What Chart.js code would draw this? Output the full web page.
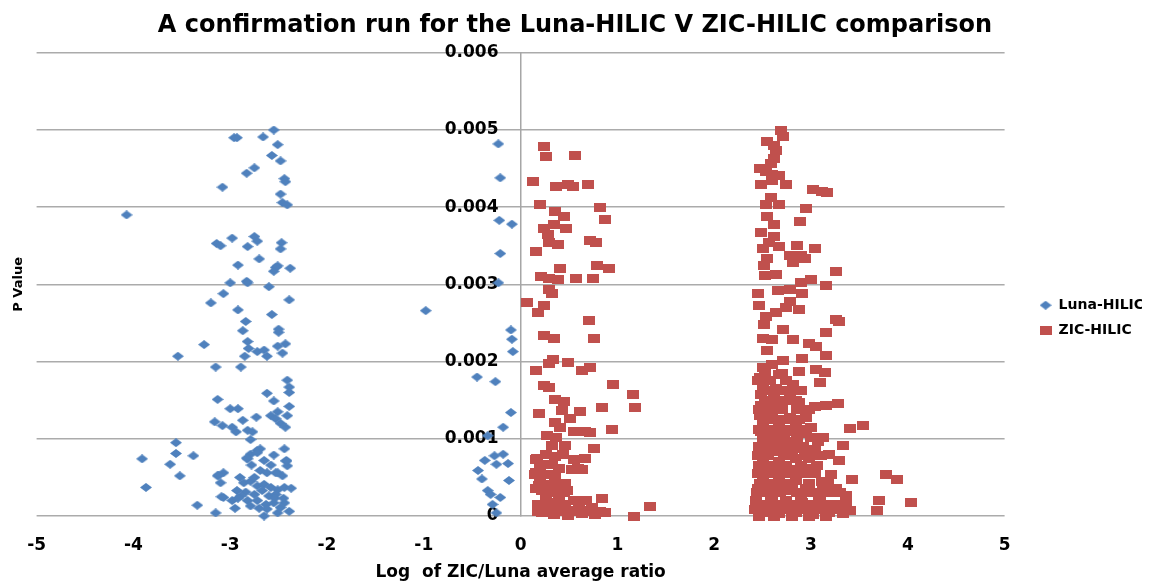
<!DOCTYPE html>
<html>
<head>
<meta charset="utf-8">
<script src="https://cdn.jsdelivr.net/npm/chart.js@4/dist/chart.umd.min.js"></script>
<style>
  body { margin: 0; background: #fff; }
</style>
</head>
<body>
<canvas id="chart" width="1158" height="582"></canvas>
<script>
// points are [log ratio, P value in units of 0.001]
const lunaLeft = [
  [-2.55,5.00],[-2.96,4.90],[-2.93,4.90],[-2.66,4.91],[-2.51,4.81],[-2.57,4.67],[-2.48,4.60],[-2.75,4.51],
  [-2.83,4.44],[-2.44,4.37],[-2.43,4.33],[-3.08,4.26],[-2.48,4.17],[-2.46,4.06],[-2.41,4.03],[-4.07,3.90],
  [-3.14,3.53],[-3.10,3.50],[-2.98,3.60],[-2.75,3.62],[-2.72,3.56],[-2.82,3.49],[-2.47,3.54],[-2.48,3.46],
  [-2.92,3.25],[-2.70,3.33],[-2.53,3.22],[-2.55,3.17],[-2.51,3.24],[-2.38,3.21],[-3.00,3.02],[-2.83,3.04],
  [-2.82,3.02],[-2.60,2.97],[-3.07,2.88],[-3.20,2.76],[-2.39,2.80],[-2.92,2.67],[-2.57,2.61],[-2.84,2.52],
  [-2.87,2.40],[-2.50,2.42],[-2.50,2.38],[-3.27,2.22],[-2.82,2.26],[-2.81,2.17],[-2.72,2.13],[-2.65,2.15],
  [-2.62,2.07],[-2.51,2.20],[-2.43,2.23],[-2.46,2.11],[-2.85,2.07],[-3.54,2.07],[-3.15,1.93],[-2.89,1.93],
  [-2.41,1.76],[-2.39,1.67],[-2.39,1.60],[-2.62,1.59],[-2.55,1.49],[-2.39,1.42],[-3.13,1.51],[-3.00,1.39],
  [-2.92,1.39],[-2.73,1.28],[-2.58,1.30],[-2.51,1.35],[-2.53,1.26],[-2.48,1.20],[-2.43,1.15],[-2.41,1.30],
  [-2.87,1.24],[-3.16,1.22],[-3.08,1.17],[-2.98,1.15],[-2.94,1.09],[-2.82,1.11],[-2.77,1.09],[-2.79,0.99],
  [-3.56,0.95],[-3.56,0.81],[-3.38,0.78],[-3.91,0.74],[-3.62,0.67],[-3.52,0.52],[-3.87,0.37],[-3.34,0.14],
  [-3.15,0.04],[-2.72,0.85],[-2.69,0.87],[-2.79,0.80],[-2.82,0.74],[-2.65,0.72],[-2.55,0.79],[-2.44,0.87],
  [-2.42,0.72],[-2.41,0.65],[-2.51,0.56],[-2.46,0.52],[-2.69,0.59],[-2.62,0.56],[-3.13,0.52],[-3.07,0.56],
  [-3.10,0.43],[-2.86,0.43],[-2.79,0.45],[-2.72,0.39],[-2.65,0.41],[-2.58,0.37],[-2.51,0.34],[-2.44,0.37],
  [-2.37,0.36],[-2.93,0.33],[-2.84,0.31],[-2.75,0.28],[-2.67,0.33],[-2.60,0.26],[-2.53,0.28],[-3.07,0.24],
  [-2.98,0.20],[-2.89,0.26],[-2.82,0.20],[-2.72,0.20],[-2.63,0.15],[-2.55,0.17],[-2.44,0.17],[-2.39,0.06],
  [-2.79,0.13],[-2.62,0.09],[-2.51,0.04],[-2.65,0.00],[-2.48,0.11],[-2.90,0.50],[-2.75,0.50],[-2.78,0.66],
  [-2.58,0.66],[-2.92,0.23],[-2.54,0.23],[-2.45,0.23],[-2.70,0.10],[-2.95,0.10],[-3.12,0.53],[-3.09,0.25],
  [-2.83,0.75],[-2.72,0.82],[-2.53,0.56],[-2.42,0.71]
];
const lunaNearZero = [
  [-0.23,4.82],[-0.21,4.38],[-0.22,3.83],[-0.09,3.78],[-0.21,3.40],[-0.23,3.02],[-0.98,2.66],[-0.10,2.41],
  [-0.09,2.29],[-0.08,2.13],[-0.45,1.80],[-0.26,1.74],[-0.10,1.34],[-0.18,1.15],[-0.34,1.04],[-0.37,0.72],
  [-0.27,0.78],[-0.18,0.80],[-0.25,0.67],[-0.13,0.68],[-0.44,0.59],[-0.40,0.48],[-0.12,0.46],[-0.34,0.33],
  [-0.31,0.28],[-0.21,0.24],[-0.29,0.15],[-0.25,0.04]
];
const zicNearZero = [
  [0.24,4.78],[0.26,4.66],[0.56,4.67],[0.13,4.33],[0.37,4.27],[0.49,4.29],[0.54,4.27],[0.70,4.29],
  [0.20,4.04],[0.82,3.99],[0.36,3.94],[0.45,3.88],[0.87,3.84],[0.24,3.73],[0.35,3.78],[0.47,3.73],
  [0.28,3.64],[0.29,3.54],[0.39,3.52],[0.72,3.57],[0.78,3.54],[0.16,3.43],[0.41,3.20],[0.79,3.24],
  [0.91,3.20],[0.21,3.10],[0.29,3.07],[0.39,3.06],[0.57,3.07],[0.75,3.07],[0.29,2.94],[0.32,2.88],
  [0.07,2.76],[0.24,2.73],[0.18,2.64],[0.71,2.53],[0.24,2.34],[0.35,2.30],[0.76,2.30],[0.33,2.03],
  [0.29,1.97],[0.49,1.99],[0.16,1.89],[0.63,1.89],[0.72,1.92],[0.24,1.69],[0.29,1.67],[0.95,1.70],
  [1.16,1.57],[1.18,1.41],[0.36,1.51],[0.45,1.48],[0.43,1.37],[0.19,1.33],[0.61,1.36],[0.84,1.40],
  [0.36,1.21],[0.41,1.15],[0.51,1.26],[0.55,1.09],[0.67,1.10],[0.72,1.08],[0.94,1.12],[0.27,1.04],
  [0.37,1.02],[0.32,0.91],[0.46,0.91],[0.76,0.87],[0.17,0.74],[0.22,0.67],[0.36,0.77],[0.32,0.67],
  [0.55,0.73],[0.67,0.74],[0.15,0.54],[0.30,0.54],[0.53,0.60],[0.63,0.60],[0.25,0.41],[0.46,0.42],
  [0.22,0.33],[0.37,0.30],[0.48,0.33],[0.84,0.23],[1.34,0.12],[1.17,0.00],[0.18,0.15],[0.32,0.17],
  [0.46,0.15],[0.60,0.13],[0.74,0.11],[0.87,0.04],[0.22,0.04],[0.35,0.02],[0.49,0.01],[0.63,0.03],
  [0.77,0.02],[0.29,0.11],[0.43,0.09],[0.56,0.07],[0.70,0.07],[0.67,0.75],[0.59,0.61],[0.16,0.73],
  [0.16,0.56],[0.19,0.40],[0.33,0.38],[0.45,0.31],[0.26,0.25],[0.20,0.50],[0.36,0.50],[0.26,0.20],
  [0.40,0.20],[0.55,0.20],[0.68,0.20],[0.18,0.06],[0.30,0.06],[0.44,0.06],[0.58,0.06],[0.72,0.06],
  [0.82,0.06],[0.16,0.35],[0.28,0.35],[0.26,0.80],[0.44,0.80],[0.20,0.62],[0.40,0.62]
];
const zicRight = [
  [2.69,5.00],[2.71,4.91],[2.55,4.85],[2.62,4.80],[2.64,4.74],[2.62,4.63],[2.59,4.57],[2.47,4.50],
  [2.53,4.46],[2.60,4.43],[2.67,4.41],[2.48,4.30],[2.60,4.35],[2.74,4.30],[3.02,4.23],[3.11,4.20],
  [3.17,4.19],[2.59,4.12],[2.53,4.03],[2.67,4.03],[2.95,3.98],[2.55,3.88],[2.62,3.77],[2.89,3.82],
  [2.48,3.67],[2.62,3.62],[2.57,3.54],[2.50,3.46],[2.67,3.49],[2.86,3.50],[3.04,3.47],[2.78,3.37],
  [2.90,3.37],[2.94,3.33],[2.55,3.33],[2.81,3.28],[2.51,3.24],[3.26,3.17],[2.52,3.11],[2.64,3.13],
  [2.90,3.03],[3.00,3.06],[3.16,2.98],[2.45,2.88],[2.66,2.92],[2.78,2.93],[2.91,2.88],[2.78,2.78],
  [2.74,2.70],[2.46,2.73],[2.88,2.67],[2.53,2.59],[2.64,2.63],[3.26,2.55],[3.29,2.52],[2.51,2.48],
  [2.71,2.42],[3.16,2.38],[2.50,2.30],[2.60,2.28],[2.81,2.28],[2.98,2.23],[3.05,2.20],[2.55,2.15],
  [3.16,2.08],[2.71,2.02],[2.91,2.04],[2.50,1.93],[2.60,1.96],[2.88,1.87],[3.05,1.90],[3.14,1.86],
  [2.47,1.80],[2.67,1.83],[3.09,1.73],[2.50,1.67],[2.64,1.65],[2.81,1.70],[2.48,1.57],[2.62,1.54],
  [2.78,1.59],[2.88,1.47],[3.04,1.42],[3.16,1.43],[3.28,1.46],[2.48,1.43],[2.67,1.46],[2.47,1.30],
  [2.60,1.33],[2.78,1.28],[2.95,1.27],[2.50,1.20],[2.67,1.20],[2.85,1.20],[3.00,1.15],[3.40,1.13],
  [3.54,1.17],[2.48,1.09],[2.64,1.08],[2.81,1.09],[2.95,1.07],[3.12,1.02],[3.07,0.97],[2.52,0.96],
  [2.67,0.94],[2.85,0.97],[3.33,0.91],[2.48,0.85],[2.64,0.83],[2.81,0.87],[3.04,0.86],[3.19,0.80],
  [3.29,0.72],[2.50,0.72],[2.67,0.70],[2.85,0.74],[2.98,0.75],[2.47,0.61],[2.62,0.59],[2.79,0.60],
  [2.98,0.61],[3.21,0.54],[3.77,0.54],[3.89,0.47],[3.42,0.47],[2.50,0.48],[2.67,0.49],[2.85,0.46],
  [3.11,0.45],[2.45,0.35],[2.60,0.37],[2.78,0.33],[2.95,0.35],[3.12,0.37],[3.26,0.35],[3.36,0.26],
  [3.70,0.20],[4.03,0.17],[3.68,0.07],[2.43,0.20],[2.59,0.22],[2.74,0.20],[2.91,0.17],[3.09,0.20],
  [3.26,0.15],[3.40,0.07],[2.50,0.04],[2.67,0.03],[2.85,0.05],[3.02,0.02],[3.19,0.04],[3.33,0.03],
  [2.53,0.11],[2.71,0.12],[2.88,0.11],[3.05,0.12],[2.52,1.85],[2.70,1.85],[2.45,1.75],[2.58,1.75],
  [2.74,1.75],[2.56,1.62],[2.70,1.62],[2.90,1.62],[2.52,1.50],[2.60,1.50],[2.74,1.50],[2.84,1.50],
  [2.46,1.38],[2.58,1.38],[2.70,1.38],[2.86,1.38],[2.98,1.38],[2.54,1.25],[2.64,1.25],[2.72,1.25],
  [2.88,1.25],[2.46,1.12],[2.58,1.12],[2.74,1.12],[2.90,1.12],[2.50,1.02],[2.62,1.02],[2.72,1.02],
  [2.86,1.02],[3.00,1.02],[2.46,0.90],[2.57,0.90],[2.70,0.90],[2.76,0.90],[2.92,0.90],[2.45,0.78],
  [2.56,0.78],[2.72,0.78],[2.80,0.78],[2.94,0.78],[3.10,0.78],[2.46,0.66],[2.58,0.66],[2.74,0.66],
  [2.90,0.66],[3.06,0.66],[2.45,0.55],[2.55,0.55],[2.70,0.55],[2.80,0.55],[2.92,0.55],[3.04,0.55],
  [2.47,0.42],[2.56,0.42],[2.72,0.42],[2.80,0.42],[2.98,0.42],[3.18,0.42],[2.44,0.30],[2.54,0.30],
  [2.68,0.30],[2.86,0.30],[3.02,0.30],[3.20,0.30],[3.30,0.30],[2.60,0.26],[2.90,0.26],[3.08,0.26],
  [2.48,0.15],[2.64,0.15],[2.80,0.15],[2.98,0.15],[3.14,0.15],[3.36,0.15],[2.42,0.08],[2.60,0.08],
  [2.78,0.08],[2.95,0.08],[3.12,0.08],[3.30,0.08],[2.46,0.00],[2.62,0.00],[2.80,0.00],[2.98,0.00],
  [3.16,0.00]
];
const xTickLabels = ['-5', '-4', '-3', '-2', '-1', '0', '1', '2', '3', '4', '5'];
const yTickLabels = ['0', '0.001', '0.002', '0.003', '0.004', '0.005', '0.006'];

const blue = '#4F81BD';
const red = '#C0504D';
const boldFont = (size, lineHeight) => ({ family: 'DejaVu Sans', size: size, weight: 'bold', lineHeight: lineHeight || 1.2 });

function marker(w, h, color, diamond) {
    const c = document.createElement('canvas');
    c.width = w;
    c.height = h;
    const g = c.getContext('2d');
    g.fillStyle = color;
    if (diamond) {
        g.beginPath();
        g.moveTo(w / 2, 0);
        g.lineTo(w, h / 2);
        g.lineTo(w / 2, h);
        g.lineTo(0, h / 2);
        g.closePath();
        g.fill();
    } else {
        g.fillRect(0, 0, w, h);
    }
    return c;
}

const toPoints = list => list.map(p => ({ x: p[0], y: p[1] / 1000 }));

// plain y scale used only for layout pieces (title, label column, spacer)
const extraY = extra => Object.assign({
    type: 'linear',
    min: 0,
    max: 0.006,
    ticks: { display: false },
    grid: { display: false, drawTicks: false },
    border: { display: false }
}, extra);

new Chart(document.getElementById('chart'), {
    type: 'scatter',
    data: {
        datasets: [{
            label: 'Luna-HILIC',
            data: toPoints(lunaLeft.concat(lunaNearZero)),
            pointStyle: marker(12, 9, blue, true),
            backgroundColor: blue,
            borderColor: blue,
            xAxisID: 'x',
            yAxisID: 'y',
            clip: false
        }, {
            label: 'ZIC-HILIC',
            data: toPoints(zicNearZero.concat(zicRight)),
            pointStyle: marker(12, 9, red, false),
            backgroundColor: red,
            borderColor: red,
            xAxisID: 'x',
            yAxisID: 'y',
            clip: false
        }]
    },
    options: {
        responsive: false,
        animation: false,
        events: [],
        layout: { padding: { left: 8, right: 16, top: 0, bottom: 0 } },
        plugins: {
            title: {
                display: true,
                text: 'A confirmation run for the Luna-HILIC V ZIC-HILIC comparison',
                font: boldFont(24),
                color: '#000',
                padding: { top: 11, bottom: 13 }
            },
            legend: {
                position: 'right',
                title: { display: true, text: '', padding: { top: 0, bottom: 39 } },
                labels: { usePointStyle: true, pointStyleWidth: 12, font: boldFont(14), color: '#000', padding: 11 }
            },
            tooltip: { enabled: false }
        },
        scales: {
            x: {
                type: 'linear',
                min: -5,
                max: 5,
                ticks: {
                    stepSize: 1,
                    font: boldFont(17),
                    color: '#000',
                    padding: 19,
                    callback: (v, i) => xTickLabels[i]
                },
                grid: { display: false, drawTicks: false },
                border: { display: false },
                title: {
                    display: true,
                    text: 'Log  of ZIC/Luna average ratio',
                    font: boldFont(17),
                    color: '#000',
                    padding: { top: -11.6, bottom: -1.2 }
                }
            },
            y: {
                type: 'linear',
                position: { x: 0 },
                min: 0,
                max: 0.006,
                ticks: { stepSize: 0.001, display: false },
                grid: { color: '#ababab', lineWidth: 1.5, drawTicks: false },
                border: { display: true, color: '#a6a6a6', width: 1.5 }
            },
            yLabels: extraY({
                position: { x: -0.228 },
                ticks: {
                    stepSize: 0.001,
                    font: boldFont(17),
                    color: '#000',
                    callback: (v, i) => yTickLabels[i]
                }
            }),
            yTitle: extraY({
                position: 'left',
                title: {
                    display: true,
                    text: 'P Value',
                    font: boldFont(13),
                    color: '#000',
                    padding: { top: 3, bottom: 10 }
                }
            }),
            ySpacer: extraY({
                position: 'right',
                afterFit: scale => { scale.width = 24; }
            })
        }
    }
});
</script>
</body>
</html>
